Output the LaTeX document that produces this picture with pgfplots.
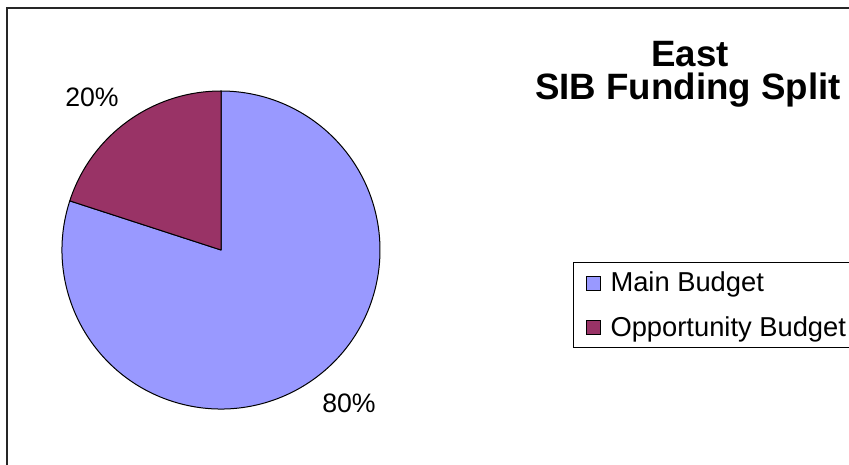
\documentclass[border=0pt]{standalone}
\usepackage{pgfplots}
\usepackage{pgfplotstable}
\pgfplotsset{compat=1.18}
\usepackage{fontspec}
\setmainfont{Liberation Sans}
\definecolor{mainc}{HTML}{9999FF}
\definecolor{oppc}{HTML}{993366}
\pgfplotstableread{
label value
Main 80
Opportunity 20
}\piedata
\pgfplotstablegetelem{0}{value}\of\piedata \let\vmain\pgfplotsretval
\pgfplotstablegetelem{1}{value}\of\piedata \let\vopp\pgfplotsretval
\pgfmathsetmacro\aopp{90+360*\vopp/(\vmain+\vopp)}
\pgfmathtruncatemacro\pmain{round(100*\vmain/(\vmain+\vopp))}
\pgfmathtruncatemacro\popp{round(100*\vopp/(\vmain+\vopp))}
\begin{document}
\begin{tikzpicture}
\path[use as bounding box, clip] (0,0) rectangle (636.75pt,348pt);
\begin{axis}[x=0.75pt, y=0.75pt, xmin=0, xmax=849, ymin=0, ymax=464,
  hide axis, clip=false, scale only axis,
  legend cell align=left,
  legend style={at={(axis cs:573,202)}, anchor=north west, draw=black, line width=0.75pt,
    font=\fontsize{20.5}{24}\selectfont, inner xsep=9.5pt, inner ysep=5.25pt, row sep=12.75pt, column sep=5pt},
  legend image code/.code={\draw[#1, line width=0.75pt] (0pt,-5.25pt) rectangle (10.5pt,5.25pt);},
]
\addlegendimage{fill=mainc, draw=black}
\addlegendentry{Main Budget}
\addlegendimage{fill=oppc, draw=black}
\addlegendentry{Opportunity Budget}
\filldraw[fill=mainc, draw=black, line width=0.75pt, line join=round] (axis cs:221,214) -- ++(\aopp:119.25pt) arc[start angle=\aopp, end angle=450, radius=119.25pt] -- cycle;
\filldraw[fill=oppc, draw=black, line width=0.75pt, line join=round] (axis cs:221,214) -- ++(90:119.25pt) arc[start angle=90, end angle=\aopp, radius=119.25pt] -- cycle;
\node[font=\fontsize{20}{24}\selectfont] at (axis cs:92,367) {\popp\%};
\node[font=\fontsize{20}{24}\selectfont] at (axis cs:349,61) {\pmain\%};
\node[font=\bfseries\fontsize{27.5}{32}\selectfont, anchor=base] at (axis cs:690,397) {East};
\node[font=\bfseries\fontsize{27.5}{32}\selectfont, anchor=base] at (axis cs:688,364) {SIB Funding Split};
\draw[line width=1.5pt, black!85] (axis cs:7,-10) -- (axis cs:7,456) -- (axis cs:870,456);
\end{axis}
\end{tikzpicture}
\end{document}
